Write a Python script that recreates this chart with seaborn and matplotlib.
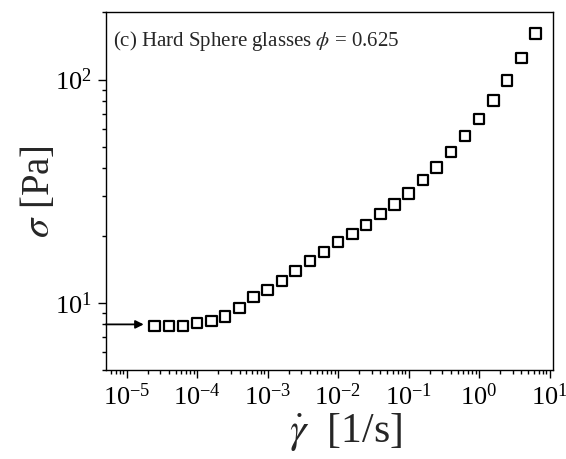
import numpy as np
import pandas as pd
import matplotlib
matplotlib.use("Agg")
import matplotlib.pyplot as plt
from matplotlib.ticker import LogLocator, LogFormatterMathtext, NullFormatter
import seaborn as sns

# shear rate [1/s] and stress [Pa]
shear_rate = [2.5e-5, 4.0e-5, 6.3e-5, 1.0e-4, 1.6e-4, 2.5e-4, 4.0e-4, 6.3e-4,
              1.0e-3, 1.6e-3, 2.5e-3, 4.0e-3, 6.3e-3, 1.0e-2, 1.6e-2, 2.5e-2,
              4.0e-2, 6.3e-2, 0.10, 0.16, 0.25, 0.40, 0.63, 1.0, 1.6, 2.5,
              4.0, 6.3]
stress = [7.87, 7.87, 7.87, 8.09, 8.26, 8.69, 9.50, 10.6,
          11.4, 12.5, 13.9, 15.4, 16.9, 18.7, 20.3, 22.3,
          25.0, 27.6, 30.9, 35.5, 40.4, 47.3, 55.9, 66.8, 80.6, 99.0,
          125.0, 161.0]
yield_stress = 8.0
x_ticks = [1e-5, 1e-4, 1e-3, 1e-2, 1e-1, 1e0, 1e1]
y_ticks = [1e1, 1e2]
label_text = r"(c) Hard Sphere glasses $\phi$ = 0.625"

df = pd.DataFrame({"rate": shear_rate, "sigma": stress})

sns.set_style("ticks")
plt.rcParams["font.family"] = ["Liberation Serif", "DejaVu Serif"]
plt.rcParams["mathtext.fontset"] = "stix"

fig = plt.figure(figsize=(5.66, 4.59), dpi=100)
ax = fig.add_axes([0.187, 0.194, 0.790, 0.779])

sns.scatterplot(data=df, x="rate", y="sigma", marker="s", s=55,
                facecolor="none", edgecolor="black", linewidth=1.6, ax=ax)

ax.set_xscale("log")
ax.set_yscale("log")
ax.set_xlim(5.08e-6, 11.2)
ax.set_ylim(5, 200)

ax.set_xticks(x_ticks)
ax.set_yticks(y_ticks)
ax.xaxis.set_minor_locator(LogLocator(base=10, subs=np.arange(2, 10), numticks=20))
ax.yaxis.set_minor_locator(LogLocator(base=10, subs=np.arange(2, 10), numticks=20))
ax.xaxis.set_major_formatter(LogFormatterMathtext())
ax.yaxis.set_major_formatter(LogFormatterMathtext())
ax.xaxis.set_minor_formatter(NullFormatter())
ax.yaxis.set_minor_formatter(NullFormatter())

ax.tick_params(which="both", direction="out", top=False, right=False,
               width=1, colors="black", labelsize=19)
ax.tick_params(which="major", length=6, pad=4)
ax.tick_params(which="minor", length=3)
for sp in ax.spines.values():
    sp.set_visible(True)
    sp.set_color("black")
    sp.set_linewidth(1)

ax.set_xlabel(r"$\dot{\gamma}$  [1/s]", fontsize=30)
ax.xaxis.set_label_coords(0.535, -0.115, transform=ax.transAxes)
ax.xaxis.label.set_va("top")
ax.set_ylabel(r"$\sigma$ [Pa]", fontsize=28, labelpad=-2)

ax.annotate("", xy=(1.75e-5, yield_stress), xytext=(5.08e-6, yield_stress),
            arrowprops=dict(arrowstyle="-|>", color="black", lw=1.3,
                            mutation_scale=12, shrinkA=0, shrinkB=0))

ax.text(0.016, 0.92, label_text, transform=ax.transAxes, fontsize=15,
        ha="left", va="center")

fig.savefig("out.png", dpi=100)
